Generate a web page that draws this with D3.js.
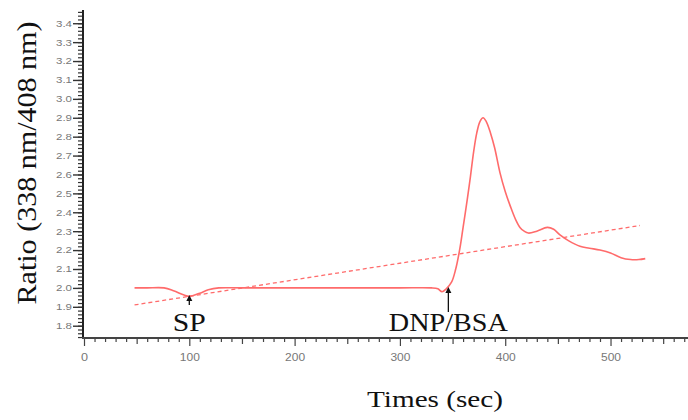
<!DOCTYPE html>
<html>
<head>
<meta charset="utf-8">
<script src="https://cdn.jsdelivr.net/npm/d3@7/dist/d3.min.js"></script>
<style>
  html, body { margin: 0; padding: 0; background: #fff; }
  svg { display: block; }
</style>
</head>
<body>
<svg id="chart" width="688" height="420"></svg>
<script>
// Fluorescence ratio trace over time
const timeSec = [48, 60, 76, 85, 95, 100, 110, 118, 128, 150, 200, 250, 300, 330, 336, 340, 344, 349, 353, 357, 360, 364, 367, 370, 373, 376, 379, 382, 386, 390, 395, 400, 405, 410, 414, 418, 422, 430, 440, 446, 452, 460, 471, 480, 490, 500, 510, 519, 527, 533];
const ratio   = [2.00, 2.00, 2.00, 1.985, 1.962, 1.955, 1.972, 1.99, 2.00, 2.00, 2.00, 2.00, 2.00, 2.00, 1.995, 1.98, 1.995, 2.03, 2.10, 2.21, 2.32, 2.47, 2.59, 2.72, 2.82, 2.88, 2.90, 2.88, 2.82, 2.74, 2.61, 2.51, 2.43, 2.36, 2.32, 2.30, 2.29, 2.30, 2.32, 2.31, 2.28, 2.25, 2.22, 2.21, 2.20, 2.185, 2.16, 2.15, 2.15, 2.155];

// Linear trend line endpoints
const trendTime  = [48, 528];
const trendRatio = [1.91, 2.33];

// Stimulus markers
const markerNames = ["SP", "DNP/BSA"];
const markerTimes = [100, 346];

// Axis ticks
const yMajorTicks = [1.8, 1.9, 2.0, 2.1, 2.2, 2.3, 2.4, 2.5, 2.6, 2.7, 2.8, 2.9, 3.0, 3.1, 3.2, 3.3, 3.4];
const xMajorTicks = [0, 100, 200, 300, 400, 500];

const svg = d3.select("#chart");
const lineColor = "#ff6b6b";

const x = d3.scaleLinear().domain([0, 575]).range([84, 689.5]);
const y = d3.scaleLinear().domain([1.735, 3.47]).range([338, 10]);

// ---- Y axis ----
const yMinor = d3.range(1.74, 3.47, 0.02).map(v => +v.toFixed(2));
svg.append("g")
  .attr("transform", "translate(83,0)")
  .call(d3.axisLeft(y).tickValues(yMinor).tickSize(5).tickFormat(""))
  .call(g => g.select(".domain").remove())
  .call(g => g.selectAll("line").attr("stroke", "#333").attr("stroke-width", 1.2));

const yAx = svg.append("g")
  .attr("transform", "translate(83,0)")
  .call(d3.axisLeft(y).tickValues(yMajorTicks).tickSize(10).tickPadding(1).tickFormat(d3.format(".1f")))
  .call(g => g.select(".domain").remove())
  .call(g => g.selectAll("line").attr("stroke", "#333").attr("stroke-width", 1.4));
yAx.selectAll("text")
  .attr("fill", "#777")
  .attr("font-family", "Liberation Sans, Arial, sans-serif")
  .attr("font-size", 9)
  .attr("textLength", 16)
  .attr("lengthAdjust", "spacingAndGlyphs");

// ---- X axis ----
const xMinor = d3.range(0, 576, 10);
svg.append("g")
  .attr("transform", "translate(0,338)")
  .call(d3.axisBottom(x).tickValues(xMinor).tickSize(4).tickFormat(""))
  .call(g => g.select(".domain").remove())
  .call(g => g.selectAll("line")
    .attr("y2", d => d % 100 === 0 ? 8 : (d % 50 === 0 ? 6 : 4))
    .attr("stroke", "#444").attr("stroke-width", 1.2));

const xAx = svg.append("g")
  .attr("transform", "translate(0,338)")
  .call(d3.axisBottom(x).tickValues(xMajorTicks).tickSize(0).tickPadding(16))
  .call(g => g.select(".domain").remove());
xAx.selectAll("text")
  .attr("fill", "#777")
  .attr("font-family", "Liberation Sans, Arial, sans-serif")
  .attr("font-size", 10)
  .attr("textLength", d => d === 0 ? 7 : 20)
  .attr("lengthAdjust", "spacingAndGlyphs");

// Axis lines
svg.append("line").attr("x1", 83).attr("x2", 83).attr("y1", 10).attr("y2", 339)
  .attr("stroke", "#222").attr("stroke-width", 2);
svg.append("line").attr("x1", 82).attr("x2", 688).attr("y1", 338).attr("y2", 338)
  .attr("stroke", "#444").attr("stroke-width", 2);

// ---- Trend line ----
svg.append("path")
  .datum(d3.zip(trendTime, trendRatio))
  .attr("d", d3.line().x(d => x(d[0])).y(d => y(d[1])))
  .attr("fill", "none")
  .attr("stroke", lineColor)
  .attr("stroke-width", 1.3)
  .attr("stroke-dasharray", "4,3");

// ---- Ratio trace ----
svg.append("path")
  .datum(d3.zip(timeSec, ratio))
  .attr("d", d3.line().curve(d3.curveCatmullRom.alpha(0.5)).x(d => x(d[0])).y(d => y(d[1])))
  .attr("fill", "none")
  .attr("stroke", lineColor)
  .attr("stroke-width", 1.6);

// ---- Stimulus arrows and labels ----
const arrowTop = [295, 287];
const arrowBottom = [305, 312];
const labelWidth = [33, 119];
markerNames.forEach((name, i) => {
  const px = x(markerTimes[i]);
  svg.append("line")
    .attr("x1", px).attr("x2", px)
    .attr("y1", arrowTop[i] + 4).attr("y2", arrowBottom[i])
    .attr("stroke", "#111").attr("stroke-width", 1.3);
  svg.append("path")
    .attr("d", `M${px},${arrowTop[i]} L${px - 3},${arrowTop[i] + 6} L${px + 3},${arrowTop[i] + 6} Z`)
    .attr("fill", "#111");
  svg.append("text")
    .attr("x", px).attr("y", 331)
    .attr("text-anchor", "middle")
    .attr("font-family", "Liberation Serif, Times New Roman, serif")
    .attr("font-size", 25)
    .attr("fill", "#111")
    .attr("textLength", labelWidth[i])
    .attr("lengthAdjust", "spacingAndGlyphs")
    .text(name);
});

// ---- Axis titles ----
svg.append("text")
  .attr("x", 435).attr("y", 407)
  .attr("text-anchor", "middle")
  .attr("font-family", "Liberation Serif, Times New Roman, serif")
  .attr("font-size", 24)
  .attr("fill", "#111")
  .attr("textLength", 136)
  .attr("lengthAdjust", "spacingAndGlyphs")
  .text("Times (sec)");

svg.append("text")
  .attr("transform", "translate(36,163) rotate(-90)")
  .attr("text-anchor", "middle")
  .attr("font-family", "Liberation Serif, Times New Roman, serif")
  .attr("font-size", 28)
  .attr("fill", "#111")
  .attr("textLength", 283)
  .attr("lengthAdjust", "spacingAndGlyphs")
  .text("Ratio (338 nm/408 nm)");
</script>
</body>
</html>
